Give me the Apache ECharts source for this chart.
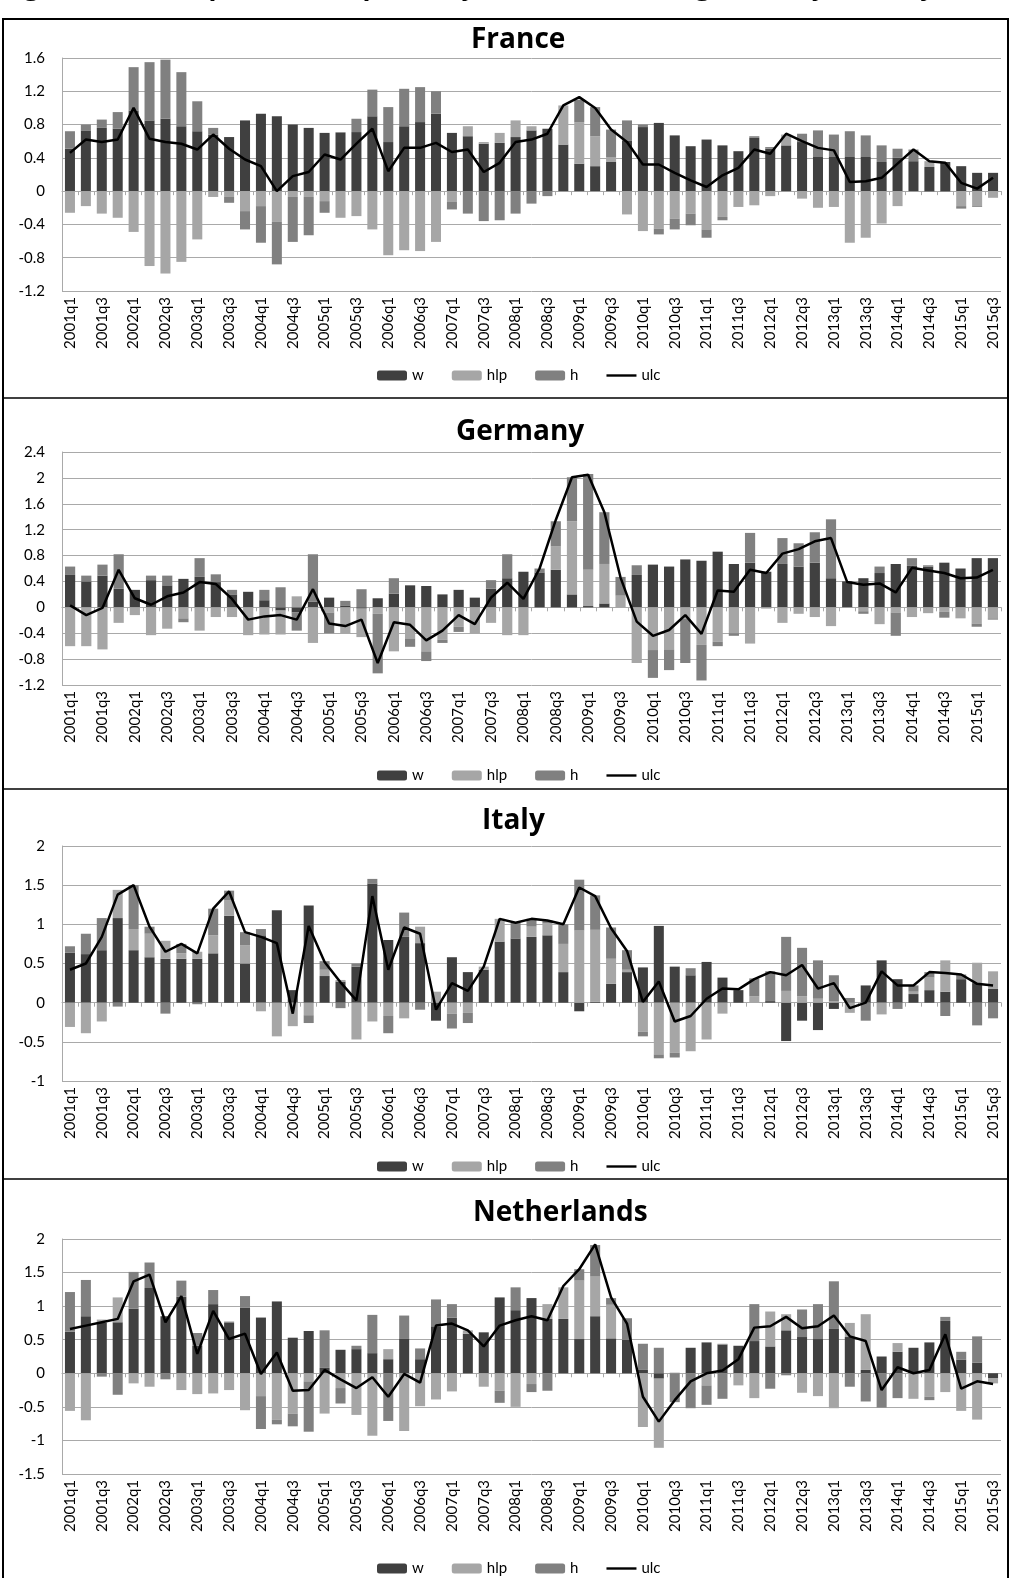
<!DOCTYPE html>
<html><head><meta charset="utf-8">
<script src="https://cdn.jsdelivr.net/npm/echarts@6/dist/echarts.min.js"></script>
<style>html,body{margin:0;padding:0;background:#fff}#c{width:1012px;height:1578px}</style>
</head><body><div id="c"></div>
<script>
const quarters = ['2001q1','2001q2','2001q3','2001q4','2002q1','2002q2','2002q3','2002q4','2003q1','2003q2','2003q3','2003q4','2004q1','2004q2','2004q3','2004q4','2005q1','2005q2','2005q3','2005q4','2006q1','2006q2','2006q3','2006q4','2007q1','2007q2','2007q3','2007q4','2008q1','2008q2','2008q3','2008q4','2009q1','2009q2','2009q3','2009q4','2010q1','2010q2','2010q3','2010q4','2011q1','2011q2','2011q3','2011q4','2012q1','2012q2','2012q3','2012q4','2013q1','2013q2','2013q3','2013q4','2014q1','2014q2','2014q3','2014q4','2015q1','2015q2','2015q3'];
const quartersDE = quarters.slice(0, 58);
const seriesNames = ['w', 'hlp', 'h', 'ulc'];
const panelTitles = ['France', 'Germany', 'Italy', 'Netherlands'];
const figureTitle = 'Figure 2: Decomposition of quarterly unit labour cost growth by country';

const frW = [.51,.73,.76,.75,.97,.85,.87,.78,.72,.68,.65,.85,.93,.90,.80,.76,.70,.70,.71,.90,.59,.78,.83,.93,.70,.66,.57,.58,.65,.73,.75,.56,.33,.30,.35,.61,.77,.82,.67,.54,.62,.55,.48,.64,.51,.55,.59,.41,.41,.41,.41,.35,.40,.36,.29,.35,.30,.22,.22];
const frHlp = [-.26,-.18,-.27,-.32,-.49,-.90,-.99,-.85,-.58,-.07,-.07,-.24,-.18,-.37,-.07,-.07,-.12,-.32,-.30,-.46,-.77,-.71,-.72,-.61,-.13,.12,.02,.12,.20,.05,0,.47,.50,.36,.06,-.28,-.48,-.45,-.33,-.27,-.46,-.31,-.19,-.17,-.06,.13,-.09,-.20,-.19,-.62,-.56,-.39,-.18,0,.07,0,-.18,-.18,-.08];
const frH = [.21,.07,.10,.20,.52,.70,.71,.65,.36,.08,-.07,-.22,-.44,-.51,-.54,-.46,-.14,.01,.16,.32,.42,.45,.42,.27,-.09,-.27,-.36,-.35,-.27,-.15,-.06,0,.27,.35,.33,.24,.03,-.07,-.13,-.14,-.10,-.04,0,.02,.02,0,.10,.32,.27,.31,.26,.20,.11,.14,-.01,-.01,-.03,-.01,0];
const frUlc = [.46,.62,.59,.62,1.0,.63,.59,.57,.50,.68,.51,.38,.30,0,.18,.23,.44,.38,.57,.75,.24,.52,.52,.58,.47,.50,.23,.34,.59,.62,.69,1.03,1.13,1.0,.74,.59,.32,.32,.22,.13,.05,.19,.28,.50,.45,.69,.60,.52,.49,.11,.12,.16,.33,.50,.36,.34,.10,.03,.16];

const deW = [.50,.40,.49,.29,.27,.42,.34,.44,.47,.39,.20,.24,.11,-.05,-.08,.09,.15,.03,-.02,.14,.21,.34,.33,.20,.27,.15,.29,.45,.55,.54,.58,.20,.02,.06,0,.50,.66,.63,.74,.72,.86,.67,.69,.55,.67,.63,.69,.45,.40,.45,.53,.67,.64,.63,.69,.60,.76,.76];
const deHlp = [-.60,-.60,-.65,-.24,-.12,-.43,-.33,-.17,-.36,-.15,-.15,-.43,-.42,-.37,.17,-.55,-.08,-.40,-.44,-.10,-.68,-.48,-.68,-.50,-.30,-.40,-.24,-.43,-.43,0,.36,1.13,.56,.61,.18,-.86,-.66,-.65,-.18,-.58,-.53,-.40,-.56,-.02,-.24,-.10,-.15,-.29,-.01,-.06,-.26,-.08,-.15,-.09,-.07,-.17,-.25,-.17];
const deH = [.13,.09,.17,.53,0,.07,.15,-.06,.29,.12,.07,0,.16,.31,-.28,.73,-.32,.07,.28,-.92,.24,-.13,-.15,-.05,-.08,0,.13,.37,0,.06,.39,.68,1.48,.80,.29,.15,-.43,-.32,-.68,-.55,-.07,-.04,.46,0,.40,.36,.47,.91,0,-.04,.10,-.36,.12,.02,-.09,0,-.05,-.02];
const deUlc = [.03,-.12,-.01,.58,.14,.04,.17,.23,.39,.36,.13,-.19,-.14,-.12,-.19,.28,-.25,-.29,-.19,-.86,-.23,-.27,-.51,-.36,-.12,-.26,.15,.38,.13,.60,1.35,2.01,2.05,1.47,.46,-.22,-.44,-.35,-.12,-.41,.26,.24,.58,.53,.83,.90,1.02,1.07,.39,.35,.37,.23,.61,.57,.53,.45,.46,.58];

const itW = [.64,.62,.67,1.08,.67,.58,.56,.56,.56,.63,1.11,.50,.86,1.18,.16,1.24,.34,.27,.46,1.52,.80,.84,.76,-.23,.58,.39,.42,.78,.82,.84,.86,.39,-.11,.01,.24,.39,.45,.98,.46,.35,.52,.32,.16,0,.02,-.49,-.23,-.35,-.08,0,.22,.54,.30,.11,.16,.14,.30,.25,.18];
const itHlp = [-.31,-.39,-.24,.36,.27,.30,.23,.07,.09,.23,.20,.23,-.11,-.43,-.30,-.16,.08,.02,-.47,-.24,-.17,-.20,.21,.14,-.14,-.13,.04,.29,0,.13,.15,.36,.92,.92,.32,.03,-.37,-.66,-.64,-.62,-.47,-.14,0,.08,0,.15,.08,.05,.02,-.13,0,-.15,0,.03,.16,.40,0,.26,.22];
const itH = [.08,.26,.41,-.05,.56,.09,-.14,.12,-.02,.34,.12,.17,.08,0,0,-.10,.11,-.07,.04,.06,-.22,.31,-.09,0,-.19,-.13,0,0,.20,.10,.04,.25,.65,.44,.40,.25,-.06,-.05,-.06,.09,0,0,0,.23,.38,.69,.62,.49,.33,.06,-.23,0,-.08,.08,.07,-.17,.06,-.29,-.20];
const itUlc = [.42,.50,.84,1.38,1.50,.97,.65,.75,.63,1.20,1.42,.90,.84,.76,-.14,.98,.52,.26,.03,1.36,.42,.96,.88,-.09,.25,.15,.46,1.07,1.02,1.07,1.05,1.0,1.47,1.36,.95,.66,.01,.27,-.24,-.17,.05,.18,.17,.30,.39,.35,.48,.18,.25,-.07,0,.40,.22,.22,.39,.38,.36,.24,.22];

const nlW = [.62,.85,.75,.76,.96,1.27,.85,1.14,.41,1.03,.75,.98,.83,1.07,.53,.63,.08,.35,.36,.30,.21,.52,.21,.70,.83,.59,.61,1.13,.94,1.12,.81,.81,.51,.85,.52,.50,.05,-.08,0,.38,.46,.43,.41,.48,.40,.64,.54,.51,.66,.54,.05,.25,.32,.38,.46,.78,.20,.16,-.07];
const nlHlp = [-.56,-.70,.05,.37,-.15,-.20,0,-.25,-.31,-.30,-.25,-.55,-.34,-.69,-.60,-.12,-.60,-.22,-.62,-.93,.15,-.86,-.49,-.39,-.27,.05,-.20,-.26,-.50,-.16,.22,.47,.87,.59,.50,0,-.80,-1.03,.01,0,-.18,.01,-.18,-.37,.52,.24,-.29,-.34,-.52,.21,.83,0,.13,-.38,-.35,-.28,-.56,-.69,-.08];
const nlH = [.59,.54,-.05,-.32,.55,.38,-.09,.24,.19,.21,.02,.17,-.49,-.07,-.19,-.75,.56,-.23,.05,.57,-.71,.34,.16,.40,.20,0,0,-.18,.34,-.12,-.26,0,.17,.47,.10,.32,.39,.38,-.43,-.52,-.29,-.38,0,.55,-.23,-.03,.41,.52,.71,-.20,-.42,-.51,-.37,0,-.05,.06,.12,.39,0];
const nlUlc = [.66,.71,.76,.81,1.37,1.47,.76,1.15,.29,.93,.51,.59,-.01,.31,-.26,-.25,.05,-.09,-.22,-.06,-.35,-.01,-.14,.71,.74,.64,.40,.71,.79,.85,.79,1.30,1.55,1.92,1.13,.74,-.35,-.72,-.40,-.12,0,.04,.21,.68,.70,.84,.67,.70,.86,.55,.48,-.25,.09,0,.05,.58,-.23,-.12,-.16];

const yMins = [-1.2, -1.2, -1, -1.5];
const yMaxs = [1.6, 2.4, 2, 2];
const ySteps = [0.4, 0.4, 0.5, 0.5];

const panelData = [
  {cats: quarters, w: frW, hlp: frHlp, h: frH, ulc: frUlc},
  {cats: quartersDE, w: deW, hlp: deHlp, h: deH, ulc: deUlc},
  {cats: quarters, w: itW, hlp: itHlp, h: itH, ulc: itUlc},
  {cats: quarters, w: nlW, hlp: nlHlp, h: nlH, ulc: nlUlc}
];

// layout (pixels)
const layout = [
  {top: 58, height: 233, titleTop: 21, titleLeft: 466, legendTop: 363},
  {top: 452, height: 233, titleTop: 413, titleLeft: 451, legendTop: 763},
  {top: 846, height: 235, titleTop: 802, titleLeft: 477, legendTop: 1154},
  {top: 1239, height: 235, titleTop: 1194, titleLeft: 468, legendTop: 1556}
];
const FONT = "Lato, 'Open Sans', sans-serif";
const TITLE_FONT = "'Open Sans', Lato, sans-serif";
const colors = {w: '#404040', hlp: '#a6a6a6', h: '#808080'};
const gridColor = '#a9a9a9';
const lineIcon = 'path://M0,0L0,0M0,3.8L30,3.8L30,6.2L0,6.2ZM30,10L30,10';

const option = {
  animation: false,
  backgroundColor: '#fff',
  textStyle: {fontFamily: FONT},
  title: layout.map((l, i) => ({
    text: panelTitles[i], left: l.titleLeft, top: l.titleTop,
    textStyle: {fontFamily: TITLE_FONT, fontSize: 28, fontWeight: 'bold', color: '#000'}
  })),
  legend: layout.map(l => ({
    data: ['w', 'hlp', 'h', {name: 'ulc', icon: lineIcon}],
    top: l.legendTop, left: 372, itemWidth: 30, itemHeight: 10, itemGap: 28,
    selectedMode: false, textStyle: {fontFamily: FONT, fontSize: 15, color: '#000'},
    itemStyle: {borderWidth: 0}, lineStyle: {width: 0}
  })),
  grid: layout.map(l => ({left: 62, width: 939, top: l.top, height: l.height})),
  xAxis: [],
  yAxis: [],
  series: [],
  graphic: [
    {type: 'text', x: 2, y: -25, style: {text: figureTitle, fontFamily: TITLE_FONT, fontSize: 26, fontWeight: 'bold', fill: '#000'}, silent: true},
    {type: 'rect', shape: {x: 3, y: 19, width: 1005, height: 1600}, style: {fill: 'none', stroke: '#000', lineWidth: 2}, silent: true},
    {type: 'line', shape: {x1: 3, y1: 398, x2: 1008, y2: 398}, style: {stroke: '#000', lineWidth: 1.5}, silent: true},
    {type: 'line', shape: {x1: 3, y1: 789, x2: 1008, y2: 789}, style: {stroke: '#000', lineWidth: 1.5}, silent: true},
    {type: 'line', shape: {x1: 3, y1: 1179, x2: 1008, y2: 1179}, style: {stroke: '#000', lineWidth: 1.5}, silent: true}
  ]
};

panelData.forEach((p, i) => {
  option.xAxis.push({
    gridIndex: i, type: 'category', data: p.cats, boundaryGap: true,
    axisLine: {onZero: true, lineStyle: {color: gridColor, width: 1}},
    axisTick: {show: true, interval: 0, length: 4, lineStyle: {color: gridColor}},
    axisLabel: {show: false}, splitLine: {show: false}
  });
  option.xAxis.push({
    gridIndex: i, type: 'category', data: p.cats, boundaryGap: true, position: 'bottom',
    axisLine: {show: false, onZero: false}, axisTick: {show: false},
    axisLabel: {interval: 1, rotate: 90, fontSize: 15, color: '#000', fontFamily: FONT, margin: 6},
    splitLine: {show: false}
  });
  option.yAxis.push({
    gridIndex: i, type: 'value', min: yMins[i], max: yMaxs[i], interval: ySteps[i],
    axisLine: {show: true, lineStyle: {color: gridColor}}, axisTick: {show: false},
    splitLine: {show: true, lineStyle: {color: gridColor, width: 1}},
    axisLabel: {fontSize: 15, color: '#000', fontFamily: FONT, margin: 17,
      formatter: v => String(Math.round(v * 10) / 10)}
  });
  ['w', 'hlp', 'h'].forEach(k => {
    option.series.push({
      name: k, type: 'bar', xAxisIndex: 2 * i, yAxisIndex: i, stack: 'p' + i,
      data: p[k], barWidth: '63%', itemStyle: {color: colors[k]}
    });
  });
  option.series.push({
    name: 'ulc', type: 'line', xAxisIndex: 2 * i, yAxisIndex: i, data: p.ulc,
    symbol: 'none', showSymbol: false, lineStyle: {color: '#000', width: 2.5},
    itemStyle: {color: '#000'}, z: 5
  });
});

const chart = echarts.init(document.getElementById('c'), null, {renderer: 'canvas'});
chart.setOption(option);
</script>
</body></html>
